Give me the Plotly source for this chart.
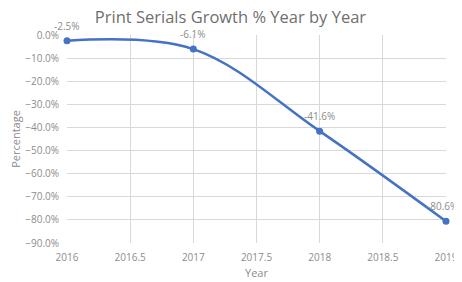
import plotly.graph_objects as go

years = [2016, 2017, 2018, 2019]
growth = [-2.5, -6.1, -41.6, -80.6]
labels = ["-2.5%", "-6.1%", "-41.6%", "-80.6%"]
title = "Print Serials Growth % Year by Year"

fig = go.Figure()
fig.add_trace(go.Scatter(
    x=years, y=growth, mode="lines+markers",
    line=dict(color="#4472C4", width=2.5, shape="spline", smoothing=1.0),
    marker=dict(color="#4472C4", size=7),
    cliponaxis=False, showlegend=False,
))

n = len(years)
for i, (xv, yv, t) in enumerate(zip(years, growth, labels)):
    fig.add_annotation(x=xv, y=yv, text=t, showarrow=False, yshift=15,
                       xshift=-4 if i == n - 1 else 0,
                       xanchor="center", yanchor="middle",
                       font=dict(size=10, color="#8c8c8c"))

# page body has an 8px margin, so the figure is offset to fit the 462x282 window
fig.update_layout(
    width=454, height=274,
    margin=dict(l=59, r=16, t=27, b=39),
    paper_bgcolor="white", plot_bgcolor="white",
    font=dict(family="Open Sans, sans-serif", color="#8c8c8c"),
    title=dict(text=title, x=0.49, xanchor="center", y=0.988, yanchor="top",
               pad=dict(t=0, b=0),
               font=dict(size=16.5, color="#6f6f6f")),
    xaxis=dict(range=[2016, 2019], dtick=0.5, tick0=2016, showgrid=True,
               gridcolor="#d9d9d9", gridwidth=1, zeroline=False,
               tickformat=".1~f", automargin=False,
               tickfont=dict(size=10, color="#8c8c8c"),
               title=dict(text="Year", font=dict(size=11, color="#8c8c8c"), standoff=6),
               ticks="outside", ticklen=5, tickcolor="rgba(0,0,0,0)", showline=False),
    yaxis=dict(range=[-90, 0], dtick=10, showgrid=True, gridcolor="#d9d9d9",
               gridwidth=1, zeroline=False, ticksuffix="%", tickformat=".1f",
               automargin=False,
               tickfont=dict(size=10, color="#8c8c8c"),
               title=dict(text="Percentage", font=dict(size=11, color="#8c8c8c"), standoff=4),
               ticks="outside", ticklen=5, tickcolor="rgba(0,0,0,0)", showline=False),
)
fig.write_html("out.html")
